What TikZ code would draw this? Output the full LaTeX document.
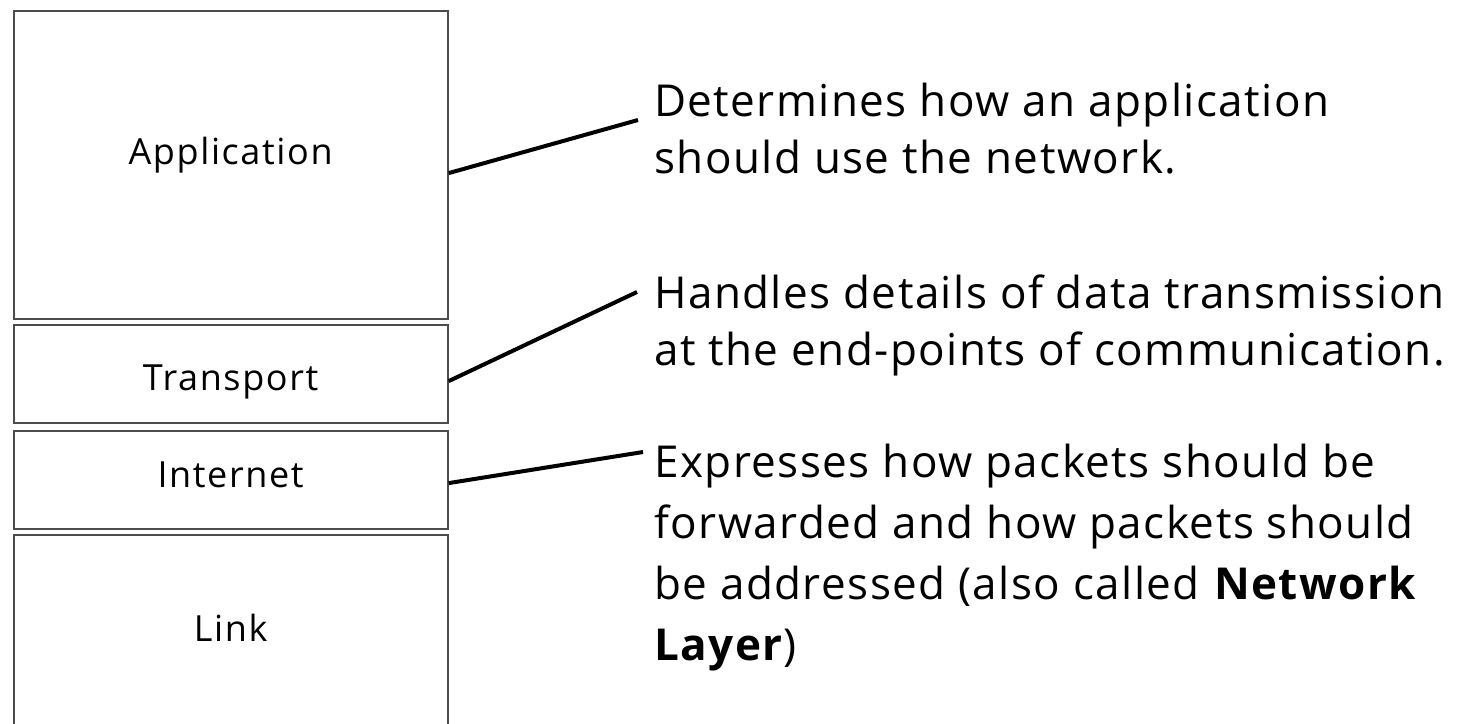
\documentclass[tikz,border=0pt]{standalone}
\usepackage{fontspec}
\setmainfont{Open Sans}
\begin{document}
\begin{tikzpicture}[x=1pt,y=-1pt,
  layer/.style={draw=black!70,line width=2.2pt,fill=white,inner sep=0pt,anchor=north west,
    minimum width=434pt,
    font=\fontsize{36}{40}\selectfont\addfontfeature{LetterSpace=4.5}},
  % text height/depth pair that places the cap line of the label
  lift/.style 2 args={text height=#1,text depth=#2},
  callout/.style={black,line width=4pt},
  note/.style={anchor=north west,align=left,inner sep=0pt,
    font=\fontsize{44}{#1}\selectfont\addfontfeature{LetterSpace=3.3}},
  note/.default=58]
\useasboundingbox (0,0) rectangle (1474,723);
\clip (0,0) rectangle (1474,723);
% protocol stack
\node[layer,minimum height=308pt,lift={26pt}{28pt}] (app) at (12.5,10) {Application};
\node[layer,minimum height=98pt,lift={32pt}{0pt}] (tra) at (12.5,324) {Transport};
\node[layer,minimum height=98pt,lift={26pt}{12pt}] (int) at (12.5,430) {Internet};
\node[layer,minimum height=200pt,lift={26pt}{14pt}] (lnk) at (12.5,534) {Link};
% descriptions
\node[note=57] (dapp) at (654,83) {Determines how an application\\should use the network.};
\node[note=57] (dtra) at (654,275) {Handles details of data transmission\\at the end-points of communication.};
\node[note=61] (dint) at (654,444) {Expresses how packets should be\\forwarded and how packets should\\be addressed (also called \textbf{Network}\\\textbf{Layer})};
% leaders
\coordinate (eapp) at (638,120);
\coordinate (etra) at (637,292);
\coordinate (eint) at (643,452);
\draw[callout] ([yshift=-8pt]app.east) -- (eapp);
\draw[callout] ([yshift=-7pt]tra.east) -- (etra);
\draw[callout] ([yshift=-3pt]int.east) -- (eint);
\end{tikzpicture}
\end{document}
